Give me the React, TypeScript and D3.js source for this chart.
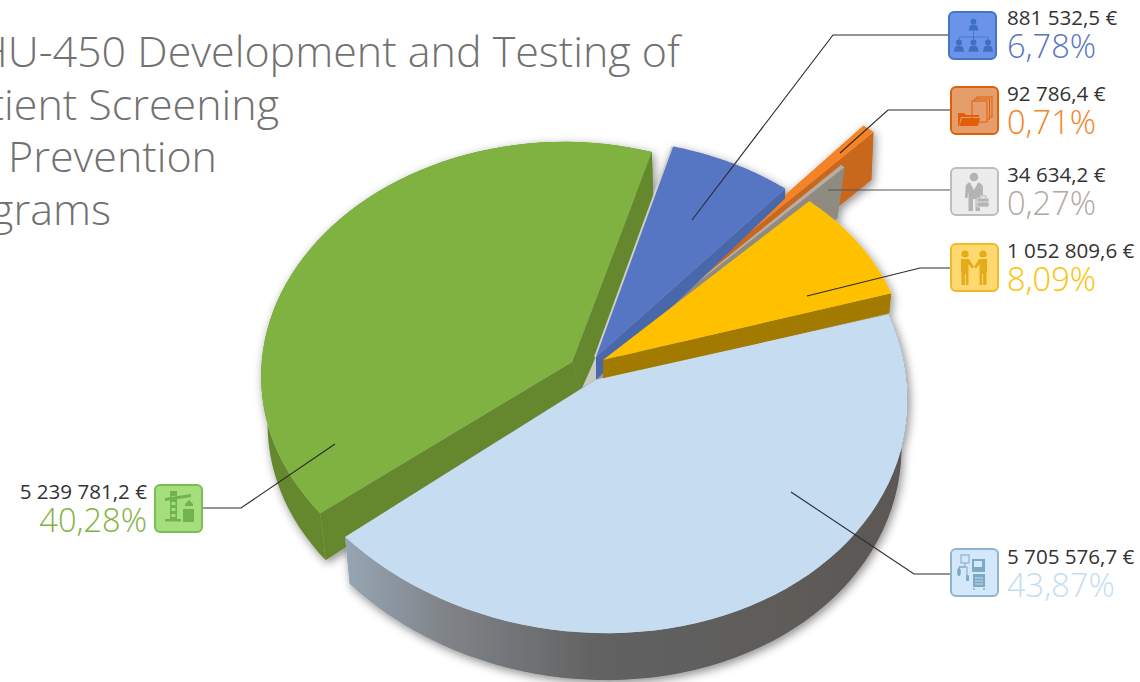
import React from "react";
import * as d3 from "d3";

const categories = ["Organisation", "Documents", "Staff", "Partners", "Equipment", "Construction"];
const values = [881532.5, 92786.4, 34634.2, 1052809.6, 5705576.7, 5239781.2];
const amounts = ["881 532,5 €", "92 786,4 €", "34 634,2 €", "1 052 809,6 €", "5 705 576,7 €", "5 239 781,2 €"];
const percents = ["6,78%", "0,71%", "0,27%", "8,09%", "43,87%", "40,28%"];
const titleLines = ["HU-450 Development and Testing of", "Patient Screening", "Prevention", "Programs"];

const FONT = "'Open Sans', sans-serif";
type Ell = { cx: number; cy: number; rx: number; ry: number; sx?: number; sy?: number };
type Geo = { top: Ell; base: Ell; apex: [number, number]; baseApex: [number, number]; fill: string; wall: string };

const geo: Geo[] = [
  { top: { cx: 596, cy: 357, rx: 298, ry: 218 }, base: { cx: 596, cy: 380, rx: 298, ry: 235 }, apex: [596, 357], baseApex: [596, 380], fill: "#5675c3", wall: "#4a68ab" },
  { top: { cx: 673, cy: 294, rx: 300, ry: 218 }, base: { cx: 671, cy: 342, rx: 300, ry: 218 }, apex: [673, 294], baseApex: [671, 342], fill: "#f58326", wall: "#c7671f" },
  { top: { cx: 641, cy: 327, rx: 299, ry: 218 }, base: { cx: 634, cy: 378, rx: 299, ry: 218 }, apex: [641, 327], baseApex: [634, 378], fill: "#b3afa7", wall: "#8f8b81" },
  { top: { cx: 603, cy: 360, rx: 303, ry: 217 }, base: { cx: 603, cy: 380, rx: 301, ry: 217 }, apex: [603, 360], baseApex: [603, 380], fill: "#ffc000", wall: "#a27a00" },
  { top: { cx: 585.5, cy: 383, rx: 322, ry: 250, sx: -9.7, sy: 9 }, base: { cx: 585.5, cy: 430, rx: 316, ry: 250, sx: -9.7, sy: 9 }, apex: [595, 380], baseApex: [595, 425], fill: "#c5dcf1", wall: "url(#wallGrad)" },
  { top: { cx: 558.6, cy: 372, rx: 297, ry: 230, sx: 17, sy: 8.8 }, base: { cx: 561, cy: 419, rx: 293, ry: 230, sx: 17, sy: 8.8 }, apex: [572, 362], baseApex: [582, 393], fill: "#7fb240", wall: "#65882f" },
];

const leaders: [number, number][][] = [
  [[692, 220], [833, 35], [950, 35]],
  [[840, 153], [888, 110], [950, 110]],
  [[828, 190], [950, 190]],
  [[807, 296], [920, 268], [950, 268]],
  [[791, 492], [914, 574], [950, 574]],
  [[335, 444], [241, 508], [203, 508]],
];

const boxes = [
  { x: 949, y: 12, fill: "#6b94e8", stroke: "#4474c4", glyph: "#3f6fc0", color: "#5675c3" },
  { x: 951, y: 87, fill: "#e69d6c", stroke: "#e0600a", glyph: "#e05f08", color: "#f58326" },
  { x: 951, y: 168, fill: "#ececec", stroke: "#bdbdbd", glyph: "#b4b4b4", color: "#aeaaa0" },
  { x: 951, y: 244, fill: "#ffd96f", stroke: "#efb92d", glyph: "#e4ab1a", color: "#ffc000" },
  { x: 951, y: 549, fill: "#d3e8fa", stroke: "#8fb4d0", glyph: "#7fa8c5", color: "#c5dcf1" },
  { x: 155, y: 485, fill: "#a5df7d", stroke: "#79bd55", glyph: "#72b34e", color: "#7fb240" },
];

const labelX = [1007, 1007, 1007, 1007, 1007, 147];
const amountY = [25, 101, 181.5, 257.5, 564, 499];
const percentY = [58, 134, 215, 291, 597, 532];

const pie = d3.pie<number>().sort(null).startAngle((15 * Math.PI) / 180).endAngle((375 * Math.PI) / 180);
const arcs = pie(values);

const pt = (e: Ell, t: number): [number, number] => [
  e.cx + e.rx * Math.sin(t) + (e.sx ?? 0) * Math.cos(t),
  e.cy - e.ry * Math.cos(t) + (e.sy ?? 0) * Math.sin(t),
];
const arcPts = (e: Ell, a: number, b: number) => d3.range(0, 61).map((i) => pt(e, a + ((b - a) * i) / 60));
const line = d3.line();
const closed = (p: [number, number][]) => (line(p) ?? "") + "Z";

function Person({ x, y, s, c }: { x: number; y: number; s: number; c: string }) {
  return (
    <g fill={c} transform={`translate(${x},${y}) scale(${s})`}>
      <circle cx={0} cy={-3} r={2.6} />
      <path d="M-4.5 5 L-3.4 0.6 Q0 -1 3.4 0.6 L4.5 5Z" />
    </g>
  );
}

function Icon({ i, c, bg }: { i: number; c: string; bg: string }) {
  if (i === 0)
    return (
      <g>
        <Person x={24.5} y={13} s={1.1} c={c} />
        <path d="M24.5 18V25M10 25V28M24.5 25V28M39 25H10M39 25V28" stroke={c} fill="none" strokeWidth={0.8} />
        <Person x={10} y={34} s={1.15} c={c} />
        <Person x={24.5} y={34} s={1.15} c={c} />
        <Person x={39} y={34} s={1.15} c={c} />
      </g>
    );
  if (i === 1)
    return (
      <g>
        <rect x={26} y={10} width={15} height={20} fill={bg} stroke={c} strokeWidth={1} />
        <rect x={23.5} y={12} width={15} height={20} fill={bg} stroke={c} strokeWidth={1} />
        <rect x={21} y={14} width={15} height={21} fill={bg} stroke={c} strokeWidth={1} />
        <path d="M7 26H13L15 28H28V30H10L8 39H7Z" fill={c} />
        <path d="M11 31H29L27 39H8.5Z" fill={c} />
      </g>
    );
  if (i === 2)
    return (
      <g fill={c}>
        <circle cx={23} cy={9} r={4.3} />
        <path d="M14 30L14.5 19Q15 15 19 14.5L23 22L27 14.5Q31 15 32 19V27H29V43H24.5V31H22V43H17.5V24L16.5 30Z" />
        <rect x={26} y={30} width={12} height={9} rx={1} stroke={bg} strokeWidth={0.8} />
        <path d="M29 30V28H35V30" fill="none" stroke={c} />
        <path d="M26 34H38" stroke={bg} strokeWidth={0.8} />
      </g>
    );
  if (i === 3)
    return (
      <g fill={c}>
        <circle cx={14} cy={10} r={3.6} />
        <circle cx={32} cy={10} r={3.6} />
        <path d="M10 15H18L23 23L21 24.5L17.5 20V41H14.8V30H13.8V41H10.5V28H10Z" />
        <path d="M36 15H28L23 23L25 24.5L28.5 20V41H31.2V30H32.2V41H35.5V28H36Z" />
      </g>
    );
  if (i === 4)
    return (
      <g>
        <rect x={10} y={6} width={8} height={8} fill="none" stroke={c} />
        <rect x={21} y={10} width={13} height={13} fill={c} />
        <rect x={23} y={12} width={8} height={6} fill={bg} />
        <rect x={22} y={25} width={12} height={13} fill={c} />
        <path d="M24 29H32M24 32H32M24 35H32" stroke={bg} strokeWidth={0.8} />
        <circle cx={23} cy={40} r={1} fill={c} />
        <circle cx={33} cy={40} r={1} fill={c} />
        <path d="M14 14V18H8V22M8 18H16V27" stroke={c} fill="none" />
        <ellipse cx={8} cy={23} rx={1.8} ry={4} fill={c} />
        <rect x={15} y={26} width={3} height={6} rx={1} fill={c} />
      </g>
    );
  return (
    <g fill={c}>
      <rect x={10} y={34} width={16} height={2.5} />
      <path d="M15 6H22V34H15Z" fill={c} />
      <path d="M16.5 11H20.5V14H16.5ZM16.5 17H20.5V20H16.5ZM16.5 23H20.5V26H16.5ZM16.5 29H20.5V32H16.5Z" fill={bg} />
      <path d="M10 13L36 9V12L10 16Z" />
      <path d="M34 12V15M30 19L34 15L38 19V21H30Z" />
      <rect x={28} y={24} width={11} height={13} />
    </g>
  );
}

export default function App() {
  const a0 = arcs.map((d) => d.startAngle);
  const a1 = arcs.map((d) => d.endAngle);
  const sw = [5, 1, 2, 0, 3, 4];
  const wallOf = (i: number) => {
    const g = geo[i];
    const e = a1[i];
    const parts: string[] = [];
    if (i === 4 || i === 5) {
      parts.push(closed([...arcPts(g.top, a0[i], a1[i]), ...arcPts(g.base, a0[i], a1[i]).reverse()]));
    }
    parts.push(closed([g.apex, pt(g.top, e), pt(g.base, e), g.baseApex]));
    if (i === 5) parts.push(closed([g.apex, pt(g.top, a0[i]), pt(g.base, a0[i]), g.baseApex]));
    return parts;
  };
  return (
    <svg width={1140} height={682} viewBox="0 0 1140 682" style={{ position: "fixed", left: 0, top: 0, background: "#fff" }}>
      <defs>
        <linearGradient id="wallGrad" gradientUnits="userSpaceOnUse" x1={345} x2={908} y1={0} y2={0}>
          <stop offset="0" stopColor="#97a6b4" />
          <stop offset="0.18" stopColor="#7f8388" />
          <stop offset="0.45" stopColor="#626262" />
          <stop offset="1" stopColor="#5b5754" />
        </linearGradient>
        <filter id="soft" x="-20%" y="-20%" width="140%" height="140%">
          <feDropShadow dx={2} dy={3} stdDeviation={5} floodColor="#000" floodOpacity={0.45} />
        </filter>
      </defs>

      <g fontFamily={FONT} fontWeight={300} fontSize={43} fill="#717171" textAnchor="end">
        {titleLines.map((t, i) => (
          <text key={t} x={[680, 279, 217, 111][i]} y={67 + i * 52.6}>{t}</text>
        ))}
      </g>

      <g filter="url(#soft)">
        {sw.map((i) => (
          <g key={categories[i]}>
            {i === 0 && (
              <path d={closed([geo[0].apex, geo[0].baseApex, [582, 388]])} fill="#c8c8c4" />
            )}
            {wallOf(i).map((d, j) => (
              <path key={j} d={d} fill={geo[i].wall} />
            ))}
            {i === 0 && (
              <path
                d={line([[geo[0].apex[0] - 1, geo[0].apex[1]], [pt(geo[0].top, a0[0])[0] - 1, pt(geo[0].top, a0[0])[1]]]) ?? ""}
                stroke="#cfcfcb"
                strokeWidth={2}
              />
            )}
            <path d={closed([geo[i].apex, ...arcPts(geo[i].top, a0[i], a1[i])])} fill={geo[i].fill} />
          </g>
        ))}
      </g>

      <g fill="none">
        {leaders.map((l, i) => (
          <path key={i} d={line(l) ?? ""} stroke={i === 2 ? "#555" : "#2b2b2b"} strokeWidth={1.1} />
        ))}
      </g>

      {boxes.map((b, i) => (
        <g key={i} transform={`translate(${b.x},${b.y})`}>
          <rect x={0} y={0} width={47} height={47} rx={5} fill={b.fill} stroke={b.stroke} strokeWidth={2} />
          <Icon i={i} c={b.glyph} bg={b.fill} />
        </g>
      ))}

      <g fontFamily={FONT}>
        {amounts.map((t, i) => (
          <text key={t} x={labelX[i]} y={amountY[i]} fontSize={20.6} fill="#333" textAnchor={i === 5 ? "end" : "start"}>{t}</text>
        ))}
        {percents.map((t, i) => (
          <text key={t} x={labelX[i]} y={percentY[i]} fontSize={32.6} fontWeight={300} fill={boxes[i].color} textAnchor={i === 5 ? "end" : "start"}>{t}</text>
        ))}
      </g>
    </svg>
  );
}
